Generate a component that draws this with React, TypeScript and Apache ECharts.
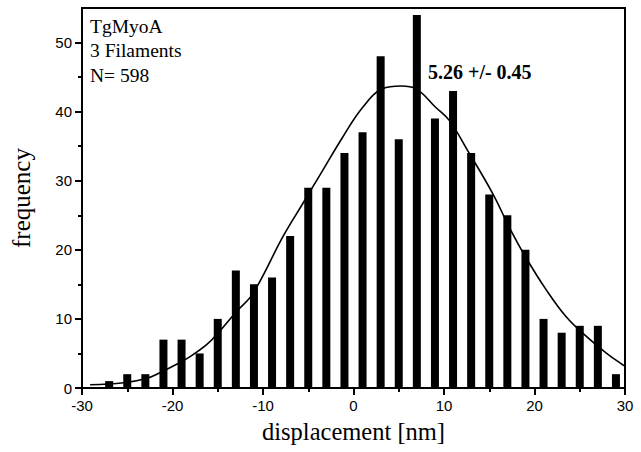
import React, { useEffect, useRef } from "react";
import * as echarts from "echarts";

// Histogram bin centres (nm) and counts
const binCenters = [-27, -25, -23, -21, -19, -17, -15, -13, -11, -9, -7, -5, -3, -1, 1, 3, 5, 7, 9, 11, 13, 15, 17, 19, 21, 23, 25, 27, 29];
const counts = [1, 2, 2, 7, 7, 5, 10, 17, 15, 16, 22, 29, 29, 34, 37, 48, 36, 54, 39, 43, 34, 28, 25, 20, 10, 8, 9, 9, 2];

// Gaussian fit curve
const fitX = [-29.1, -25.4, -22.9, -21.4, -19.6, -18.1, -16.2, -14.8, -12.9, -11.1, -7.8, -5.6, -3.4, -1.2, 1.0, 3.2, 5.26, 6.9, 9.1, 10.6, 12.6, 15.4, 17.2, 19.0, 21.3, 23.5, 25.7, 27.9, 29.7, 30];
const fitY = [0.46, 0.75, 1.37, 2.2, 3.4, 4.5, 6.3, 8.2, 11.1, 13.7, 21.9, 26.7, 31.5, 36.3, 40.6, 43.3, 43.7, 43.3, 40.6, 38.7, 34.4, 28.1, 23.3, 19.0, 14.2, 10.3, 7.5, 5.1, 3.4, 3.2];

const yMajorTicks = [0, 10, 20, 30, 40, 50];
const yMinorTicks = [5, 15, 25, 35, 45];

const infoLines = ["TgMyoA", "3 Filaments", "N= 598"];
const fitLabel = "5.26 +/- 0.45";

const SANS = "'Liberation Sans', Arial, sans-serif";
const SERIF = "'Liberation Serif', 'Times New Roman', serif";

export default function App() {
  const ref = useRef<HTMLDivElement>(null);

  useEffect(() => {
    if (!ref.current) return;
    const chart = echarts.init(ref.current, null, { renderer: "svg" });
    const barData = binCenters.map((x, i) => [x, counts[i]]);
    const fitData = fitX.map((x, i) => [x, fitY[i]]);

    chart.setOption({
      animation: false,
      backgroundColor: "#fff",
      grid: {
        left: 82,
        right: 16,
        top: 8,
        bottom: 64,
        show: true,
        borderColor: "#000",
        borderWidth: 2,
        backgroundColor: "transparent",
      },
      xAxis: {
        type: "value",
        min: -30,
        max: 30,
        interval: 10,
        name: "displacement [nm]",
        nameLocation: "middle",
        nameGap: 31,
        nameTextStyle: { fontFamily: SERIF, fontSize: 24.5, color: "#000" },
        axisLine: { show: true, onZero: false, lineStyle: { color: "#000", width: 2 } },
        axisTick: { show: true, length: 7, lineStyle: { color: "#000", width: 2 } },
        minorTick: { show: true, splitNumber: 2, length: 4, lineStyle: { color: "#000", width: 2 } },
        splitLine: { show: false },
        minorSplitLine: { show: false },
        axisLabel: { fontFamily: SANS, fontSize: 15, color: "#000", margin: 10 },
      },
      yAxis: [
        {
          type: "value",
          min: 0,
          max: 55,
          name: "frequency",
          nameLocation: "middle",
          nameGap: 48,
          nameTextStyle: { fontFamily: SERIF, fontSize: 25, color: "#000" },
          axisLine: { show: true, onZero: false, lineStyle: { color: "#000", width: 2 } },
          axisTick: { show: true, length: 7, customValues: yMajorTicks, lineStyle: { color: "#000", width: 2 } },
          splitLine: { show: false },
          axisLabel: { fontFamily: SANS, fontSize: 15, color: "#000", margin: 10, customValues: yMajorTicks },
        },
        {
          type: "value",
          min: 0,
          max: 55,
          position: "left",
          axisLine: { show: false, onZero: false },
          axisTick: { show: true, length: 4, customValues: yMinorTicks, lineStyle: { color: "#000", width: 2 } },
          splitLine: { show: false },
          axisLabel: { show: false },
        },
      ],
      series: [
        {
          type: "bar",
          data: barData,
          barWidth: 8,
          itemStyle: { color: "#000" },
          z: 2,
        },
        {
          type: "line",
          data: fitData,
          showSymbol: false,
          smooth: 0.4,
          lineStyle: { color: "#000", width: 1.6 },
          z: 3,
        },
      ],
      graphic: [
        ...infoLines.map((t, i) => ({
          type: "text",
          x: 90,
          y: 26 + i * 24.5,
          style: { text: t, fontFamily: SERIF, fontSize: 19.5, fill: "#000", verticalAlign: "middle" },
        })),
        {
          type: "text",
          x: 428,
          y: 72,
          style: { text: fitLabel, fontFamily: SERIF, fontSize: 20, fontWeight: "bold", fill: "#000", verticalAlign: "middle" },
        },
      ],
    });

    return () => chart.dispose();
  }, []);

  return (
    <div
      ref={ref}
      style={{ position: "fixed", left: 0, top: 0, width: 641, height: 452 }}
    />
  );
}
